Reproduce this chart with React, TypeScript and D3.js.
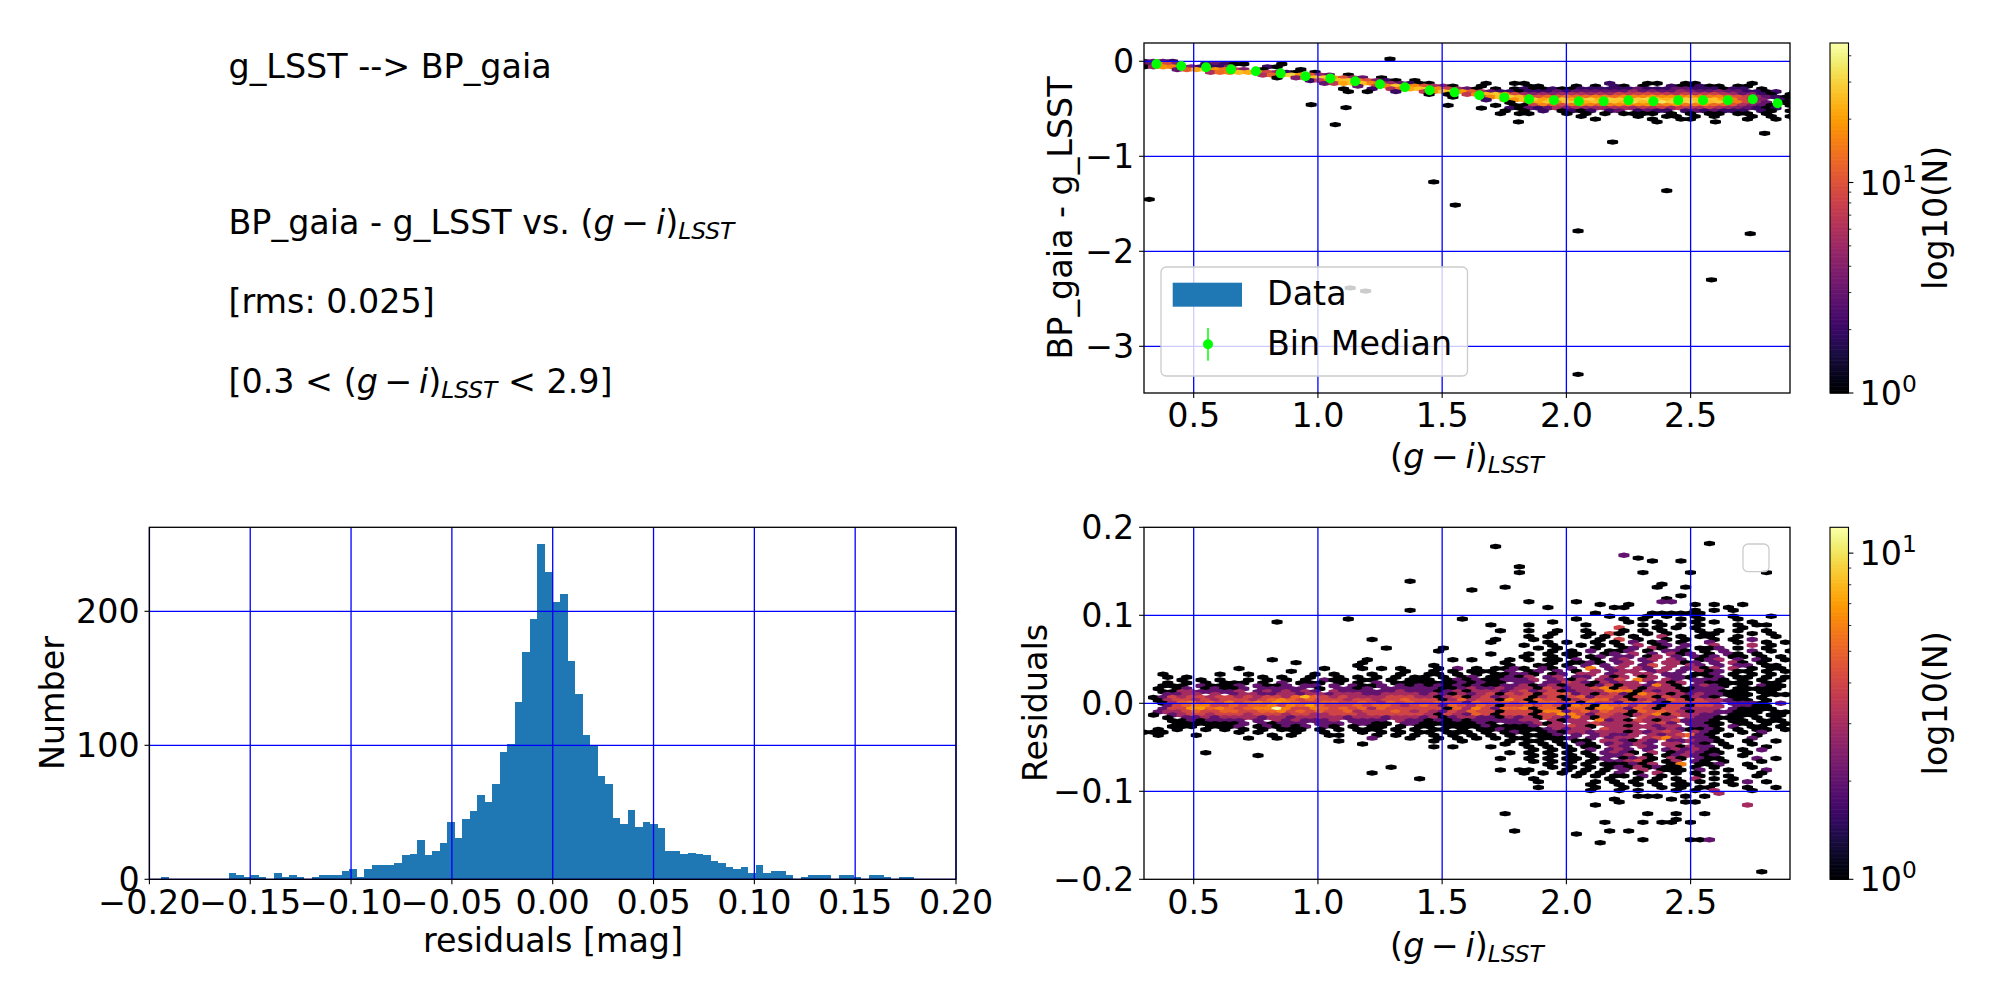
import * as d3 from "d3";

const FONT = "DejaVu Sans";

// histogram of the residuals
const histStart = -0.1942;
const histEnd = 0.1791;
const histCounts = [
  2, 0, 0, 0, 0, 0, 0, 0, 0, 5, 3, 2, 3, 2, 0, 5, 2, 3, 2, 0,
  2, 3, 3, 3, 6, 8, 2, 8, 11, 11, 11, 12, 18, 19, 29, 18, 21, 27, 43, 31,
  45, 51, 63, 58, 71, 95, 101, 132, 170, 194, 250, 229, 207, 213, 163, 138, 108, 100, 77, 71,
  46, 41, 52, 39, 43, 41, 38, 21, 21, 19, 20, 19, 18, 14, 12, 9, 8, 9, 5, 11,
  5, 6, 6, 3, 0, 2, 3, 3, 3, 0, 3, 3, 2, 0, 3, 3, 2, 0, 2, 2,
];
const histXTicks = [-0.2, -0.15, -0.1, -0.05, 0, 0.05, 0.1, 0.15, 0.2];
const histYTicks = [0, 100, 200];

// bin medians of the top panel
const medianX = [0.35, 0.45, 0.55, 0.65, 0.75, 0.85, 0.95, 1.05, 1.15, 1.25, 1.35, 1.45, 1.55, 1.65, 1.75, 1.85, 1.95, 2.05, 2.15, 2.25, 2.35, 2.45, 2.55, 2.65, 2.75, 2.85];
const medianY = [-0.028, -0.05, -0.063, -0.085, -0.105, -0.127, -0.158, -0.18, -0.21, -0.242, -0.274, -0.305, -0.327, -0.358, -0.38, -0.4, -0.41, -0.42, -0.42, -0.41, -0.42, -0.41, -0.41, -0.41, -0.4, -0.442];
const medianErr = [0.02, 0.02, 0.02, 0.02, 0.02, 0.02, 0.02, 0.02, 0.02, 0.02, 0.02, 0.02, 0.02, 0.02, 0.03, 0.03, 0.03, 0.03, 0.03, 0.03, 0.03, 0.03, 0.03, 0.03, 0.04, 0.04];

const colorXTicks = [0.5, 1, 1.5, 2, 2.5];
const topYTicks = [0, -1, -2, -3];
const residYTicks = [-0.2, -0.1, 0, 0.1, 0.2];

// hexbin counts, top panel: one string per row, one base-36 digit per g-i column
const topBinDx = 0.03825;
const topBinDy = 0.029;
const topRows = [
  "2332",
  "3k94..2321 1...1",
  "15ig842224 ...21",
  "...3bmuje8 4.1...1...",
  ".......6df qnh9521.1.",
  ".......... ..6cpuja53 .1",
  ".......... ....1.4dqt ka53.1....",
  ".......... .......28h qrga421.1.",
  ".......... .........3 7lrqg85321 1.....1..1 1........2 ...11..11. ....1",
  ".......... .......... ..3.8grtha 641..1.... 11...1.1.2 1.1..21121 1.11..",
  ".......... .......... .1..2.6emq sh8531.1.1 2112112222 2232223322 2122.1",
  ".......... .......... .1.1..2..7 hqrjb63221 2223233333 3534335433 4332212.1",
  ".......... .......... .......... 1.1.7gosj9 5454566565 8789876867 8653421.1",
  ".......... .......... .......... ..1..6hrtp gadbeddgfd hggjhigjgf gca85321.1",
  ".......... .......... .......... ......2.ci qtlqsmrunt sqtvsosurt rkg964.21",
  ".......... .......... .......... ........1. cmshrvnqur owpsztsvrq skf953.12",
  ".......... .......... .......... ..1....1.1 18gb9ehfcf hfhidgjefh dca6431.1",
  ".......... .......... .......... .....1..21 3236465556 6576857768 6543212.11",
  ".......... .......... .......... ........1. 1.2.1212.2 3.2322.232 3222.21.1",
  ".......... .......... .......... .......1.1 1...1.1.1. 1111.1.1.1 1.11.1..1.",
  ".......... .......... .......... .......... ......1... ..1..11.1. 1...1.1.1",
  ".......... .......... .......... .......... .......1.. ...1..11.. ...1..1.1.",
];
// single stars away from the top band: g-i, offset
const topStarX = [0.321, 1.466, 1.553, 2.404, 2.047, 2.74, 2.584, 2.047, 1.13, 1.192, 2.186, 2.798, 1.07, 0.973, 1.113, 1.807, 2.6, 2.365, 1.29];
const topStarY = [-1.453, -1.27, -1.513, -1.362, -1.786, -1.815, -2.3, -3.295, -2.386, -2.418, -0.85, -0.758, -0.667, -0.457, -0.488, -0.638, -0.638, -0.638, 0.024];

// hexbin counts, residual panel: rows from +0.099 to -0.099
const residBinDx = 0.03825;
const residBinDy = 0.0033;
const residFirstRow = -30;
const residRows = [
  ".......... .......... .......... .......... .........1 ...1.1..1. ..1...1",
  ".......... .......... .1........ ...1...... .....1.... 1.1...1.1. ..1",
  ".......... ....1..... .......... .......... ...1...... .1..1...1. 1...1",
  ".......... .......... .......... ......1... 1.....1... ..1.1.1.1. ..1.11",
  ".......... .......... .......... .......... .......... 4...1.1.1. ...1",
  ".......... .......... .......... .......1.. 1..1..1... 1.1.1...1. 1.1..1",
  ".......... .......... .......... .......... ...1...1.4 1..1.1...1 1...1.1",
  ".......... .......... .......... .......... 1.1...1.1. .1..3.1.11 ..1...1",
  ".......... .......... ....1..... .......1.. .1......1. 4.1..1.1.. 1.1.2",
  ".......... .......... .......... ......1... ..1.1..1.1 .2.12.1..2 ..1..1.1",
  ".......... .......... .......... .......... 1..1..1.1. 1.3.12.2.. 3...3.1",
  ".......... .......... .....1.... .1........ .1.1...1.. 12.31.2.11 2.1..1",
  ".......... .......... .......... .1........ ...1.1.2.1 12.1.221.1 .2..2.1.1",
  ".......... .......... .......... ......1... 1.1.11..12 .3.2.312.1 .21.1",
  ".......... .......... .......... .......... 1..1.1.12. 22.13.2.21 2.11.1.1",
  ".......... ...1...... ...1...... ..1.1...1. 1.11.2.1.2 3.23.32.12 3.2.21.1",
  ".......... ......1... ...1...... ........1. ...1.1121. 23.2.3312. 2.31.1",
  ".......... .......... ..1....... 1.......1. .11.1.2.2. 3.24.3.32. 2.22.11.1",
  ".......... 1........1 ...1.1.1.. .1.2.1.112 1.21.2.6.2 3.32.3.231 3.3.1.11",
  ".......... .....1.... .......1.. 1.1.111.2. 12.2.1.3.2 33.23.2.31 2.11.1.1",
  "..1.....1. .1......1. 1...1..1.. 11.1.1.112 21.12.33.2 3.33.22.11 2.1.1.1",
  "..1.1..... ..1.1..1.. 1.1.1.1.11 .1.12.1121 3.23.22.31 3.13.221.1 2.11.1.1",
  "....1.1.1. .1.1.1.1.2 11.11.1.11 1.12121122 23.2313.32 4.63.32.22 21.1.1.1",
  "..1.1.1.11 1.1.2.111. 1.1.2.1111 11121211.2 2.22432132 33.2313.21 1111.11",
  "..111.2111 2.2112.22. 2.2112.212 1212121122 3123133124 1332631.23 21.1.211",
  ".1.12.1211 2.22222.1. 2212.22222 2112322323 3143233461 4313331122 2.11111",
  "..11332222 3.2323232. 3222222322 2123133323 4234123336 6613233122 2111.11",
  "..2233.3.2 3322332332 3332233332 3213234143 4144523134 2164313232 2111.111",
  ".124344344 3434435854 3433334443 3134134234 4134145244 3144143132 1.11.1",
  ".134434344 4345654544 4344344544 4135344164 1544134553 4134254143 3211.1",
  "..13564546 4565765445 5445435454 4544254454 5155451644 2545214444 3.2221.2",
  "..24566445 4556465754 4454554345 4254354144 5454165165 5354144144 3.2211",
  "..24477565 4566c64465 4545354444 4415364255 6155155166 4254144233 3.21111",
  ".233454455 4455645454 4534445434 3243544144 4166245354 4154543133 22111.11",
  ".1.2344344 4344434433 4443444444 3143254144 4144764244 3134614332 2.111.11",
  "..1.223233 3323323333 3233323332 3123322132 3143263143 3.4333.322 111.1.1",
  "...1121222 2.2.323222 3.2222.322 1212122222 33.3133.62 3143134222 1.11.111",
  "...1111111 2.21222.22 2.2211.221 1111121.22 2313.33433 33.342.221 1.11.1.1",
  "...111.111 2.121212.2 1.1.11.1.1 1.11112111 12.33431.3 3133233.22 1.2.11.1",
  ".1.1..1.1. 1.1.111.1. 1.111.1.1. 11.1.11211 1123233.43 33.3232112 1.1.11.1",
  "111....... 1.1...1..1 ...1.1.1.1 1.111.1.12 1.12133233 3132343.32 1..1.2",
  ".1...1.... ...1.1...1 1...1.1.1. 1.1.1.1.1. 1112.2.232 23.3234521 .1..1",
  ".......... .1..1..... ....2...1. .1.1.1.1.1 1.1112.2.2 33.3463.22 1...2",
  ".......... .......... 1......... 1..1....1. 11.1.11.33 2132.22322 1..1..1",
  ".......... .......... ...1...... ........1. 1.1.1.21.2 3232.33.21 .1..1",
  ".......... .......... .......... 1.1...1... 1.1.1.11.3 2.32.31322 .1...1",
  ".......... .......... .......... .......... .1.1.1.2.2 32.2.23232 1..1.2",
  "......1... .......... .......... ........1. 1.1.1.1.23 21.3.12321 1..1",
  ".......... ..1....... .......... .......... .1.1.1.1.2 23.1.12321 2..1",
  ".......... .......... .......... .......1.. 1.1.11.12. 1231.31.21 1...2.1",
  ".......... .......... .......... .......... .1.1.1.1.2 2341.13.21 .1...1",
  ".......... .......... .......... .......... ..1.1.1.11 1213.16.11 2..1",
  ".......... .......... ......1... .......... ...1.1.1.1 2131211.1. 1...1",
  ".......... .......... .......... .......1.1 1...1.1.1. 2.3.111.2. .1...2",
  ".......... .......... ....1..... .......... 1.1.1.1.1. 2.1.3.1.1. 1....1",
  ".......... .......... .......... .......... .....1.1.1 1.2.1...1. .1..1",
  ".......... .......... .........1 .......... .1.......1 ..1.1.1.3. 1.1",
  ".......... .......... .......... .......... .1.....1.1 .1.1..1.1. .1.2.1",
  ".......... .......... .......... .......... .......1.. 1.1.1.11.. 1.1",
  ".......... .......... .......... .......... .1.....1.. 1...1.1.11 ...1..1",
  ".......... .......... .......... .......... .......1.. 1.1...1.1. 3...1",
];
// the scattered bins above and below those rows: column, row, count
const residOutliers = [
  [59, -55, 1], [37, -54, 1], [50, -51, 2], [52, -50, 1], [53, -49, 1], [56, -49, 1], [39, -47, 1], [39, -45, 1],
  [52, -45, 1], [57, -45, 1], [65, -45, 1], [28, -42, 1], [54, -41, 1], [54, -40, 1], [57, -40, 1], [38, -40, 1],
  [34, -39, 1], [56, -37, 1], [55, -36, 1], [54, -35, 2], [55, -35, 2], [45, -35, 1], [40, -35, 1], [48, -34, 1],
  [51, -34, 1], [58, -34, 1], [60, -34, 1], [63, -34, 1], [42, -33, 1], [49, -33, 1], [50, -33, 1], [61, -33, 1],
  [62, -32, 1], [60, -32, 1], [58, -32, 1], [28, -32, 1], [47, -31, 1], [53, -31, 1], [54, -31, 1], [55, -31, 1],
  [56, -31, 1], [57, -31, 1], [58, -31, 1],
  [65, 58, 1], [45, 45, 1], [39, 44, 1], [48, 48, 1], [49, 44, 1], [51, 44, 1], [52, 47, 1], [57, 47, 1], [58, 47, 1],
  [59, 47, 2], [38, 38, 1], [53, 38, 1], [52, 41, 1], [54, 41, 1], [55, 41, 1], [48, 41, 1], [56, 38, 1], [56, 40, 1],
  [57, 41, 1], [59, 38, 1], [63, 35, 3], [47, 35, 1], [49, 33, 1], [50, 34, 1], [52, 32, 1], [53, 32, 1], [54, 32, 1],
  [55, 33, 1], [57, 32, 1], [57, 34, 1], [58, 34, 1], [59, 32, 1], [60, 31, 3],
];

type Cell = { x: number; y: number; n: number };

function parseRows(rows: string[], firstRow: number, dx: number, dy: number): Cell[] {
  const cells: Cell[] = [];
  rows.forEach((row, i) => {
    const k = firstRow + i;
    row.replace(/ /g, "").split("").forEach((ch, c) => {
      const n = parseInt(ch, 36);
      if (n > 0) cells.push({ x: 0.3 + (c + (k % 2 !== 0 ? 0.5 : 0)) * dx, y: -k * dy, n });
    });
  });
  return cells;
}

const topCells: Cell[] = [
  ...parseRows(topRows, 0, topBinDx, topBinDy),
  ...topStarX.map((x, i) => ({ x, y: topStarY[i], n: 1 })),
];
const residCells: Cell[] = [
  ...parseRows(residRows, residFirstRow, residBinDx, residBinDy),
  ...residOutliers.map(([c, k, n]) => ({
    x: 0.3 + (c + (k % 2 !== 0 ? 0.5 : 0)) * residBinDx,
    y: -k * residBinDy,
    n,
  })),
];

const TICK_FS = 33.33;

function fmt(v: number, digits: number) {
  return v.toFixed(digits).replace("-", "\u2212");
}

function Frame({ x, y }: { x: any; y: any }) {
  const [x0, x1] = x.range();
  const [y0, y1] = y.range();
  return (
    <rect x={x0} y={y1} width={x1 - x0} height={y0 - y1} fill="none" stroke="#000" strokeWidth={1.3} />
  );
}

function Grid({ x, y, xTicks, yTicks }: { x: any; y: any; xTicks: number[]; yTicks: number[] }) {
  const [x0, x1] = x.range();
  const [y0, y1] = y.range();
  return (
    <g stroke="#0000ff" strokeWidth={1.3}>
      {xTicks.map((t) => (
        <line key={t} x1={x(t)} x2={x(t)} y1={y0} y2={y1} />
      ))}
      {yTicks.map((t) => (
        <line key={t} x1={x0} x2={x1} y1={y(t)} y2={y(t)} />
      ))}
    </g>
  );
}

function AxisBottom({ x, y, ticks, digits }: { x: any; y: any; ticks: number[]; digits: number }) {
  const y0 = y.range()[0];
  return (
    <g>
      {ticks.map((t) => (
        <g key={t}>
          <line x1={x(t)} x2={x(t)} y1={y0} y2={y0 + 4.9} stroke="#000" strokeWidth={1.1} />
          <text x={x(t)} y={y0 + 34.2} textAnchor="middle" fontSize={TICK_FS}>
            {fmt(t, digits)}
          </text>
        </g>
      ))}
    </g>
  );
}

function AxisLeft({ x, y, ticks, digits }: { x: any; y: any; ticks: number[]; digits: number }) {
  const x0 = x.range()[0];
  return (
    <g>
      {ticks.map((t) => (
        <g key={t}>
          <line x1={x0 - 4.9} x2={x0} y1={y(t)} y2={y(t)} stroke="#000" strokeWidth={1.1} />
          <text x={x0 - 9.7} y={y(t) + 12.1} textAnchor="end" fontSize={TICK_FS}>
            {fmt(t, digits)}
          </text>
        </g>
      ))}
    </g>
  );
}

function GminusI({ fs = TICK_FS }: { fs?: number }) {
  return (
    <>
      <tspan>(</tspan>
      <tspan fontStyle="italic">g</tspan>
      <tspan dx={fs * 0.2}>{"\u2212"}</tspan>
      <tspan dx={fs * 0.2} fontStyle="italic">i</tspan>
      <tspan>)</tspan>
      <tspan fontStyle="italic" fontSize={fs * 0.7} dy={fs * 0.15}>LSST</tspan>
    </>
  );
}

function Hexes({ cells, x, y, color, dx, dy, id }: { cells: Cell[]; x: any; y: any; color: any; dx: number; dy: number; id: string }) {
  const w = Math.abs(x(dx) - x(0)) / 2;
  const h = Math.abs(y(dy) - y(0)) / 3;
  const hexPath = (c: Cell) => {
    const px = x(c.x);
    const py = y(c.y);
    return `M${px - w},${py - h / 2}L${px},${py - h}L${px + w},${py - h / 2}L${px + w},${py + h / 2}L${px},${py + h}L${px - w},${py + h / 2}Z`;
  };
  const [x0, x1] = x.range();
  const [y0, y1] = y.range();
  return (
    <g>
      <clipPath id={id}>
        <rect x={x0} y={y1} width={x1 - x0} height={y0 - y1} />
      </clipPath>
      <g clipPath={`url(#${id})`}>
        {cells.map((c, i) => (
          <path key={i} d={hexPath(c)} fill={color(c.n)} stroke={color(c.n)} strokeWidth={1.6} strokeLinejoin="round" />
        ))}
      </g>
    </g>
  );
}

function ColorBar({ scale, x0, x1, minor }: { scale: any; x0: number; x1: number; minor: number[] }) {
  const [yBottom, yTop] = scale.range();
  const steps = d3.range(256);
  const sy = d3.scaleLinear().domain([0, 256]).range([yBottom, yTop]);
  return (
    <g>
      {steps.map((s) => (
        <rect
          key={s}
          x={x0}
          width={x1 - x0}
          y={sy(s + 1)}
          height={sy(s) - sy(s + 1) + 0.6}
          fill={d3.interpolateInferno(s / 255)}
        />
      ))}
      <rect x={x0} y={yTop} width={x1 - x0} height={yBottom - yTop} fill="none" stroke="#000" strokeWidth={1.1} />
      {minor.map((t) => (
        <line key={t} x1={x1} x2={x1 + 2.8} y1={scale(t)} y2={scale(t)} stroke="#000" strokeWidth={0.8} />
      ))}
      {[1, 10].map((t, i) => (
        <g key={t}>
          <line x1={x1} x2={x1 + 4.9} y1={scale(t)} y2={scale(t)} stroke="#000" strokeWidth={1.1} />
          <text x={x1 + 11} y={scale(t) + 12.1} fontSize={TICK_FS}>
            10
            <tspan fontSize={TICK_FS * 0.7} dy={-13}>{i}</tspan>
          </text>
        </g>
      ))}
      <text
        transform={`translate(${1947},${(yTop + yBottom) / 2}) rotate(-90)`}
        textAnchor="middle"
        fontSize={TICK_FS}
      >
        log10(N)
      </text>
    </g>
  );
}

export default function App() {
  const histX = d3.scaleLinear().domain([-0.2, 0.2]).range([149.4, 956]);
  const histY = d3.scaleLinear().domain([0, 262.7]).range([879.3, 527.3]);
  const topX = d3.scaleLinear().domain([0.3, 2.9]).range([1144, 1790]);
  const topY = d3.scaleLinear().domain([-3.4915, 0.1925]).range([393, 43]);
  const resX = d3.scaleLinear().domain([0.3, 2.9]).range([1144, 1790]);
  const resY = d3.scaleLinear().domain([-0.2, 0.2]).range([879.3, 527.3]);

  const topNorm = d3.scaleLog().domain([1, 46]).range([393, 43]);
  const resNorm = d3.scaleLog().domain([1, 12]).range([879.3, 527.3]);
  const topColor = (n: number) => d3.interpolateInferno(Math.log(n) / Math.log(46));
  const resColor = (n: number) => d3.interpolateInferno(Math.log(n) / Math.log(12));

  const binW = (histEnd - histStart) / histCounts.length;

  return (
    <svg
      width={2000}
      height={1000}
      style={{ position: "absolute", left: 0, top: 0, background: "#fff" }}
      fontFamily={FONT}
      fill="#000"
    >
      {/* text panel */}
      <g fontSize={TICK_FS}>
        <text x={228.5} y={78}>g_LSST --&gt; BP_gaia</text>
        <text x={228.5} y={234}>
          BP_gaia - g_LSST vs. <GminusI />
        </text>
        <text x={228.5} y={313}>[rms: 0.025]</text>
        <text x={228.5} y={393}>
          [0.3 &lt; <GminusI />
          <tspan dy={-TICK_FS * 0.15}> &lt; 2.9]</tspan>
        </text>
      </g>

      {/* top right: colour term hexbin */}
      <Hexes cells={topCells} x={topX} y={topY} color={topColor} dx={topBinDx} dy={topBinDy * 2} id="clipTop" />
      <Grid x={topX} y={topY} xTicks={colorXTicks} yTicks={topYTicks} />
      <g stroke="#00ff00" strokeWidth={1.5}>
        {medianX.map((m, i) => (
          <line key={m} x1={topX(m)} x2={topX(m)} y1={topY(medianY[i] - medianErr[i])} y2={topY(medianY[i] + medianErr[i])} />
        ))}
      </g>
      {medianX.map((m, i) => (
        <circle key={m} cx={topX(m)} cy={topY(medianY[i])} r={5} fill="#00ff00" />
      ))}
      <Frame x={topX} y={topY} />
      <AxisBottom x={topX} y={topY} ticks={colorXTicks} digits={1} />
      <AxisLeft x={topX} y={topY} ticks={topYTicks} digits={0} />
      <text x={1467} y={468} textAnchor="middle" fontSize={TICK_FS}>
        <GminusI />
      </text>
      <text transform={`translate(${1072},${218}) rotate(-90)`} textAnchor="middle" fontSize={TICK_FS}>
        BP_gaia - g_LSST
      </text>
      <g>
        <rect x={1161} y={267} width={306.5} height={109} rx={5} fill="#fff" fillOpacity={0.8} stroke="#cccccc" strokeWidth={1.3} />
        <rect x={1172.7} y={282.7} width={69.3} height={24} fill="#1f77b4" />
        <line x1={1208} x2={1208} y1={328} y2={360.7} stroke="#00ff00" strokeWidth={1.5} />
        <circle cx={1208} cy={344.3} r={5} fill="#00ff00" />
        <text x={1267} y={305} fontSize={TICK_FS}>Data</text>
        <text x={1267} y={355} fontSize={TICK_FS}>Bin Median</text>
      </g>
      <ColorBar
        scale={topNorm}
        x0={1830}
        x1={1848.5}
        minor={[2, 3, 4, 5, 6, 7, 8, 9, 20, 30, 40]}
      />

      {/* bottom left: histogram */}
      <g fill="#1f77b4">
        {histCounts.map((c, i) => (
          <rect
            key={i}
            x={histX(histStart + i * binW)}
            width={histX(histStart + (i + 1) * binW) - histX(histStart + i * binW)}
            y={histY(c)}
            height={histY(0) - histY(c)}
            shapeRendering="crispEdges"
          />
        ))}
      </g>
      <Grid x={histX} y={histY} xTicks={histXTicks} yTicks={histYTicks} />
      <Frame x={histX} y={histY} />
      <AxisBottom x={histX} y={histY} ticks={histXTicks} digits={2} />
      <AxisLeft x={histX} y={histY} ticks={histYTicks} digits={0} />
      <text x={553} y={952} textAnchor="middle" fontSize={TICK_FS}>residuals [mag]</text>
      <text transform={`translate(${64},${703}) rotate(-90)`} textAnchor="middle" fontSize={TICK_FS}>Number</text>

      {/* bottom right: residual hexbin */}
      <Hexes cells={residCells} x={resX} y={resY} color={resColor} dx={residBinDx} dy={residBinDy * 2} id="clipRes" />
      <Grid x={resX} y={resY} xTicks={colorXTicks} yTicks={[-0.1, 0, 0.1]} />
      <Frame x={resX} y={resY} />
      <AxisBottom x={resX} y={resY} ticks={colorXTicks} digits={1} />
      <AxisLeft x={resX} y={resY} ticks={residYTicks} digits={1} />
      <text x={1467} y={957} textAnchor="middle" fontSize={TICK_FS}>
        <GminusI />
      </text>
      <text transform={`translate(${1047},${703}) rotate(-90)`} textAnchor="middle" fontSize={TICK_FS}>Residuals</text>
      <rect x={1743} y={544} width={26} height={27.7} rx={5} fill="#fff" fillOpacity={0.8} stroke="#cccccc" strokeWidth={1.3} />
      <ColorBar scale={resNorm} x0={1830} x1={1848.5} minor={[2, 3, 4, 5, 6, 7, 8, 9]} />
    </svg>
  );
}
